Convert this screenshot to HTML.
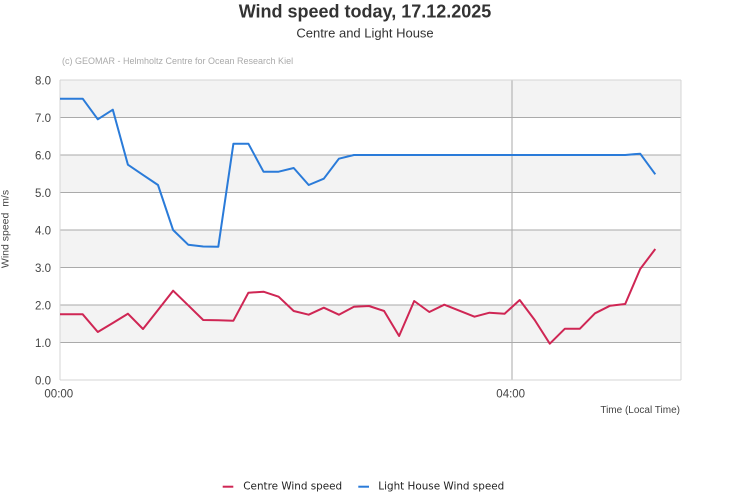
<!DOCTYPE html>
<html>
<head>
<meta charset="utf-8">
<style>
  html, body { margin: 0; padding: 0; background: #fff; }
  svg { display: block; }
</style>
</head>
<body>
<svg width="731" height="500" viewBox="0 0 731 500" xmlns="http://www.w3.org/2000/svg">
  <rect width="731" height="500" fill="#ffffff"/>
  <!-- Title -->
  <text x="365" y="17.5" text-anchor="middle" font-family="Liberation Sans, Arial, sans-serif" font-size="18" font-weight="bold" fill="#333">Wind speed today, 17.12.2025</text>
  <text x="365" y="37.5" text-anchor="middle" font-family="Liberation Sans, Arial, sans-serif" font-size="13" fill="#333">Centre and Light House</text>
  <text x="62" y="64" font-family="Liberation Sans, Arial, sans-serif" font-size="9" fill="#aaa">(c) GEOMAR - Helmholtz Centre for Ocean Research Kiel</text>

  <!-- Bands -->
  <rect x="60" y="80" width="621" height="37.5" fill="#f3f3f3"/>
  <rect x="60" y="155" width="621" height="37.5" fill="#f3f3f3"/>
  <rect x="60" y="230" width="621" height="37.5" fill="#f3f3f3"/>
  <rect x="60" y="305" width="621" height="37.5" fill="#f3f3f3"/>

  <!-- Grid lines -->
  <g stroke="#aaa" stroke-width="1" shape-rendering="crispEdges">
    <line x1="60" y1="117.5" x2="681" y2="117.5"/>
    <line x1="60" y1="155" x2="681" y2="155"/>
    <line x1="60" y1="192.5" x2="681" y2="192.5"/>
    <line x1="60" y1="230" x2="681" y2="230"/>
    <line x1="60" y1="267.5" x2="681" y2="267.5"/>
    <line x1="60" y1="305" x2="681" y2="305"/>
    <line x1="60" y1="342.5" x2="681" y2="342.5"/>
    <line x1="512" y1="80" x2="512" y2="380"/>
  </g>
  <g stroke="#d4d4d4" stroke-width="1" shape-rendering="crispEdges" fill="none">
    <line x1="60" y1="80" x2="681" y2="80"/>
    <line x1="60" y1="380" x2="681" y2="380"/>
    <line x1="60" y1="80" x2="60" y2="380"/>
    <line x1="681" y1="80" x2="681" y2="380"/>
  </g>

  <!-- Y tick labels -->
  <g font-family="Liberation Sans, Arial, sans-serif" font-size="11.5" fill="#444" text-anchor="end">
    <text x="51" y="84.3">8.0</text>
    <text x="51" y="121.8">7.0</text>
    <text x="51" y="159.3">6.0</text>
    <text x="51" y="196.8">5.0</text>
    <text x="51" y="234.3">4.0</text>
    <text x="51" y="271.8">3.0</text>
    <text x="51" y="309.3">2.0</text>
    <text x="51" y="346.8">1.0</text>
    <text x="51" y="384.3">0.0</text>
  </g>
  <!-- X tick labels -->
  <g font-family="Liberation Sans, Arial, sans-serif" font-size="11.5" fill="#444" text-anchor="middle">
    <text x="58.8" y="397.7">00:00</text>
    <text x="510.7" y="397.7">04:00</text>
  </g>
  <text x="680" y="413" text-anchor="end" font-family="Liberation Sans, Arial, sans-serif" font-size="10" fill="#444">Time (Local Time)</text>
  <text transform="translate(8.5,229) rotate(-90)" text-anchor="middle" font-family="Liberation Sans, Arial, sans-serif" font-size="10.5" fill="#444" xml:space="preserve">Wind speed  m/s</text>

  <!-- Series -->
  <polyline fill="none" stroke="#2a7bd9" stroke-width="2" stroke-linejoin="round"
    points="60,98.7 82.7,98.7 97.8,119.3 112.8,109.7 127.9,164.7 143,174.9 158,185 173.1,230 188.2,244.7 203.2,246.5 218.3,246.7 233.4,143.7 248.4,143.7 263.5,171.7 278.6,171.7 293.7,168 308.7,185 323.8,178.7 338.9,158.7 353.9,155 625.2,155 640.2,153.7 655.3,174.3"/>
  <polyline fill="none" stroke="#cf2654" stroke-width="2" stroke-linejoin="round"
    points="60,314.3 82.7,314.3 97.8,332 112.8,323 127.9,313.7 143,329 158,310 173.1,290.7 188.2,305.3 203.2,320 218.3,320.3 233.4,320.7 248.4,292.7 263.5,291.7 278.6,296.7 293.7,311 308.7,314.7 323.8,307.7 338.9,314.7 353.9,306.7 369,306 384.1,311 399.1,336 414.2,301 429.3,312 444.3,304.7 459.4,310.7 474.5,316.7 489.5,312.7 504.6,313.7 519.7,300 534.7,320 549.8,343.7 564.9,328.7 579.9,328.7 595,313.3 610.1,305.7 625.2,304 640.2,269 655.3,249"/>

  <!-- Legend -->
  <line x1="222.7" y1="486.7" x2="233.3" y2="486.7" stroke="#cf2654" stroke-width="2"/>
  <text x="243.3" y="489.5" font-family="DejaVu Sans, Verdana, sans-serif" font-size="10.4" fill="#222">Centre Wind speed</text>
  <line x1="358.3" y1="486.7" x2="369" y2="486.7" stroke="#2a7bd9" stroke-width="2"/>
  <text x="378.3" y="489.5" font-family="DejaVu Sans, Verdana, sans-serif" font-size="10.4" fill="#222">Light House Wind speed</text>
</svg>
</body>
</html>
